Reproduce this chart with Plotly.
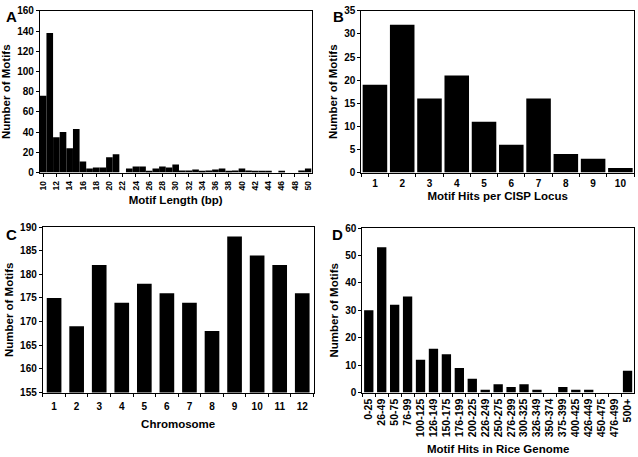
import plotly.graph_objects as go

# Panel A: motif length distribution
len_bp = list(range(10, 51))
len_counts = [76, 138, 35, 40, 24, 43, 11, 4, 5, 5, 15, 18, 0, 4, 6, 6, 1, 4, 6, 5,
              8, 2, 2, 3, 1, 2, 3, 4, 1, 2, 4, 2, 1, 1, 1, 0, 1, 0, 0, 2, 4]
len_ticks = list(range(10, 51, 2))

# Panel B: motif hits per CISP locus
hits_locus = [str(i) for i in range(1, 11)]
hits_locus_counts = [19, 32, 16, 21, 11, 6, 16, 4, 3, 1]

# Panel C: chromosome
chrom = [str(i) for i in range(1, 13)]
chrom_counts = [175, 169, 182, 174, 178, 176, 174, 168, 188, 184, 182, 176]

# Panel D: motif hits in rice genome
genome_bins = ["0-25", "26-49", "50-75", "76-99", "100-125", "126-149", "150-175",
               "176-199", "200-225", "226-249", "250-275", "276-299", "300-325",
               "326-349", "350-374", "375-399", "400-425", "426-449", "450-475",
               "476-499", "500+"]
genome_counts = [30, 53, 32, 35, 12, 16, 14, 9, 5, 1, 3, 2, 3, 1, 0, 2, 1, 1, 0, 0, 8]

FONT = "Liberation Sans, Arial, sans-serif"


def tf(size):
    return dict(family=FONT, size=size, color="black", weight="bold")


titlefont = dict(family=FONT, size=11.5, color="black", weight="bold")

fig = go.Figure()
fig.add_trace(go.Bar(x=len_bp, y=len_counts, width=1.0,
                     marker=dict(color="black", line=dict(width=0)), xaxis="x", yaxis="y"))
fig.add_trace(go.Bar(x=hits_locus, y=hits_locus_counts, width=0.9,
                     marker=dict(color="black", line=dict(width=0)), xaxis="x2", yaxis="y2"))
fig.add_trace(go.Bar(x=chrom, y=chrom_counts, width=0.65,
                     marker=dict(color="black", line=dict(width=0)), xaxis="x3", yaxis="y3"))
fig.add_trace(go.Bar(x=genome_bins, y=genome_counts, width=0.72,
                     marker=dict(color="black", line=dict(width=0)), xaxis="x4", yaxis="y4"))


def xax(domain, anchor, title, standoff, fsize, lstand, **kw):
    d = dict(domain=domain, anchor=anchor, showline=True, linecolor="black", linewidth=1,
             mirror=True, ticks="outside", ticklen=3, tickcolor="black", tickfont=tf(fsize),
             ticklabelstandoff=lstand, showgrid=False, zeroline=False,
             title=dict(text=title, font=titlefont, standoff=standoff))
    d.update(kw)
    return d


def yax(domain, anchor, rng, dtick, standoff):
    return dict(domain=domain, anchor=anchor, range=rng, dtick=dtick, showline=True,
                linecolor="black", linewidth=1, mirror=True, ticks="outside", ticklen=3,
                tickcolor="black", tickfont=tf(10), showgrid=False, zeroline=False,
                title=dict(text="Number of Motifs", font=titlefont, standoff=standoff))


yA = [1 - 171/457, 1 - 5/457]
yC = [1 - 397/457, 1 - 227/457]
yD = [1 - 397/457, 1 - 228/457]

fig.update_layout(
    width=638, height=457, margin=dict(l=0, r=0, t=0, b=0),
    paper_bgcolor="white", plot_bgcolor="white", showlegend=False,
    font=dict(family=FONT, color="black"),
    xaxis=xax([38/638, 311/638], "y", "Motif Length (bp)", 6, 8.5, 1,
              range=[9.5, 50.5], tickmode="array", tickvals=len_ticks, tickangle=-90),
    yaxis=yax(yA, "x", [0, 160], 20, 4),
    xaxis2=xax([361/638, 635/638], "y2", "Motif Hits per CISP Locus", 4, 10, 1,
               type="category", tickson="boundaries"),
    yaxis2=yax(yA, "x2", [0, 35], 5, 4),
    xaxis3=xax([41/638, 313/638], "y3", "Chromosome", 9, 10, 4,
               type="category", tickson="boundaries"),
    yaxis3=yax(yC, "x3", [155, 190], 5, 4),
    xaxis4=xax([362/638, 635/638], "y4", "Motif Hits in Rice Genome", 8, 10.5, 1,
               type="category", tickson="boundaries", tickangle=-90,
               tickmode="array", tickvals=genome_bins),
    yaxis4=yax(yD, "x4", [0, 60], 10, 4),
)

for letter, x, y in [("A", 2, 0), ("B", 331, 0), ("C", 2, 224), ("D", 330, 224)]:
    fig.add_annotation(text="<b>%s</b>" % letter, x=x/638, y=1 - y/457, xref="paper", yref="paper",
                       xanchor="left", yanchor="top", showarrow=False,
                       font=dict(family=FONT, size=15, color="black"))

fig.write_html("out.html", config={"displayModeBar": False},
               post_script="document.body.style.margin='0';document.body.style.overflow='hidden';")
